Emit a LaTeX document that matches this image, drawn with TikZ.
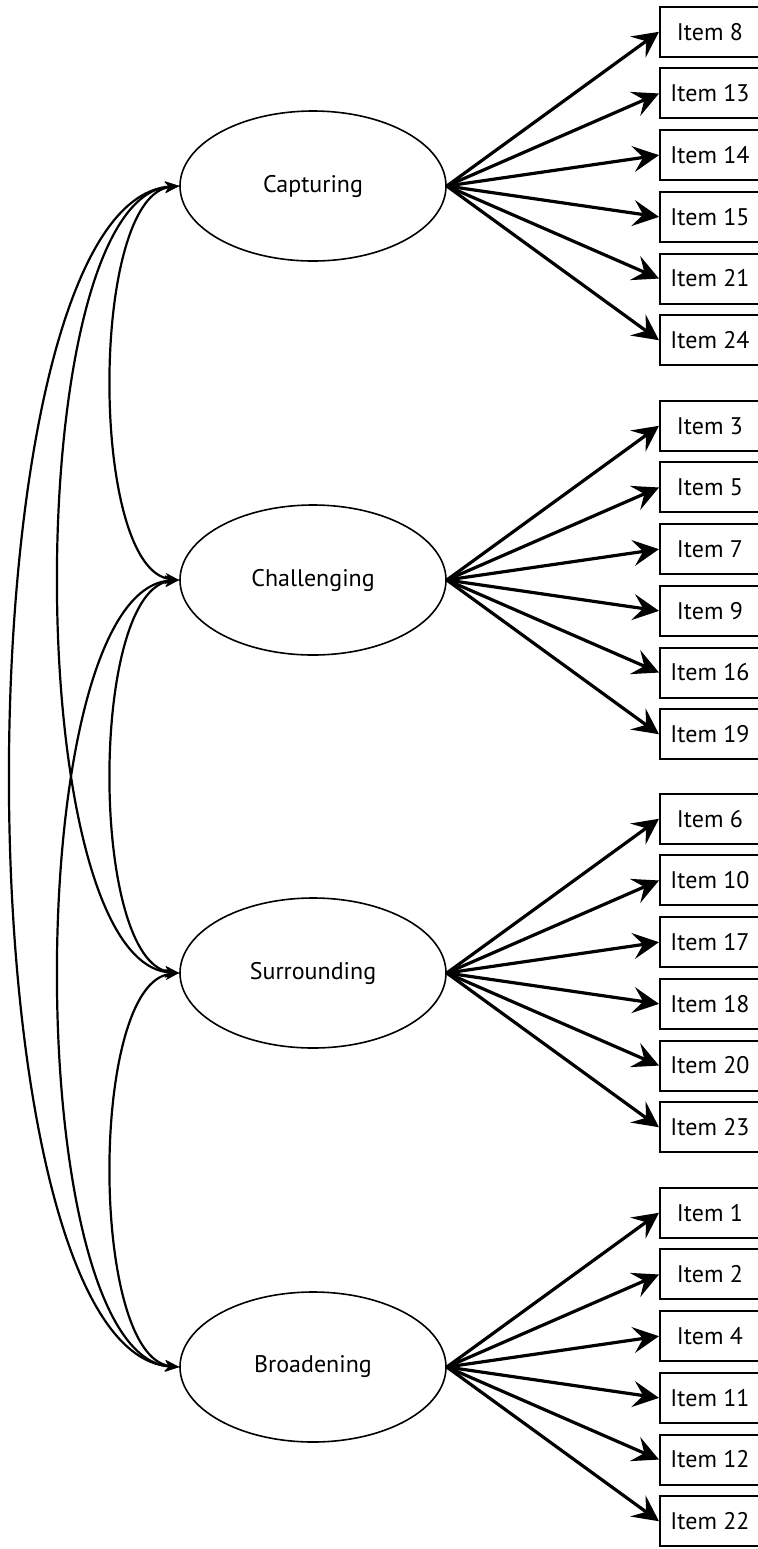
\documentclass[tikz,border=0pt]{standalone}
\usepackage{fontspec}
\setmainfont{PT Sans}
\usetikzlibrary{arrows.meta, shapes.geometric}

\tikzset{
    factor/.style={draw, ellipse, line width=0.8pt, minimum width=133pt, minimum height=75pt, inner sep=0pt},
    itembox/.style={draw, rectangle, line width=1pt, minimum width=50pt, minimum height=25pt, inner sep=0pt},
    loading/.style={line width=1.6pt, -{Stealth[length=13pt, width=13pt, inset=5pt]}},
    covar/.style={line width=1.1pt, {Stealth[length=7pt, width=5.5pt, inset=2pt]}-{Stealth[length=7pt, width=5.5pt, inset=2pt]}}
}

\begin{document}
\begin{tikzpicture}[x=0.5pt, y=-0.5pt, font=\fontsize{12}{14}\selectfont]
        \useasboundingbox (0,0) rectangle (757,1549);

        % latent factors
        \node[factor] (cap) at (313,186) {Capturing};
        \node[factor] (chal) at (313,580) {Challenging};
        \node[factor] (surr) at (313,973) {Surrounding};
        \node[factor] (broad) at (313,1367) {Broadening};

        % items and loadings
        \foreach \n [count=\k from 0] in {8,13,14,15,21,24} {
            \node[itembox] (i\n) at (710,{186+(\k-2.5)*61.7}) {Item \n};
            \draw[loading] (cap.east) -- (i\n.west);
        }
        \foreach \n [count=\k from 0] in {3,5,7,9,16,19} {
            \node[itembox] (i\n) at (710,{580+(\k-2.5)*61.7}) {Item \n};
            \draw[loading] (chal.east) -- (i\n.west);
        }
        \foreach \n [count=\k from 0] in {6,10,17,18,20,23} {
            \node[itembox] (i\n) at (710,{973+(\k-2.5)*61.7}) {Item \n};
            \draw[loading] (surr.east) -- (i\n.west);
        }
        \foreach \n [count=\k from 0] in {1,2,4,11,12,22} {
            \node[itembox] (i\n) at (710,{1367+(\k-2.5)*61.7}) {Item \n};
            \draw[loading] (broad.east) -- (i\n.west);
        }

        % covariances
        \draw[covar] (cap.west) .. controls +(-90,10) and +(-90,-10) .. (chal.west);
        \draw[covar] (chal.west) .. controls +(-90,10) and +(-90,-10) .. (surr.west);
        \draw[covar] (surr.west) .. controls +(-90,10) and +(-90,-10) .. (broad.west);
        \draw[covar] (cap.west) .. controls +(-160,10) and +(-160,-10) .. (surr.west);
        \draw[covar] (chal.west) .. controls +(-160,10) and +(-160,-10) .. (broad.west);
        \draw[covar] (cap.west) .. controls +(-224,15) and +(-224,-15) .. (broad.west);
    \end{tikzpicture}
\end{document}
